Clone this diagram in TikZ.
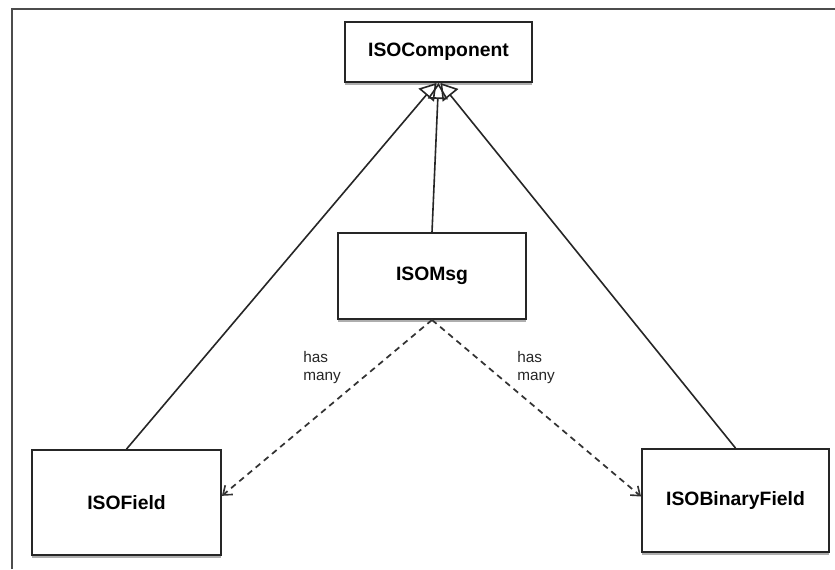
\documentclass[tikz,border=0pt]{standalone}
\usepackage{fontspec}
\setmainfont{Liberation Sans}
\usetikzlibrary{arrows.meta,shadows}
\begin{document}
\begin{tikzpicture}[x=0.75pt,y=-0.75pt,
  classbox/.style={draw=black!85,line width=1.4pt,fill=white,inner sep=0pt,
    font=\fontsize{14.5}{17}\selectfont\bfseries,
    drop shadow={shadow xshift=0pt,shadow yshift=-2.5pt,opacity=0.45,fill=black!70}},
  inherit/.style={draw=black!85,line width=1.2pt,
    -{Triangle[open,length=12pt,width=15pt,line width=1.2pt]}},
  hasmany/.style={draw=black!80,line width=1.3pt,dash pattern=on 4.5pt off 3.5pt,
    -{Straight Barb[length=6pt,width=9pt,line width=1.2pt]}},
  note/.style={font=\fontsize{11.5}{13.5}\selectfont,align=left,inner sep=0pt,text=black!85}]
  \useasboundingbox (0,0) rectangle (835,569);
  \fill[white] (0,0) rectangle (835,569);
  % frame
  \draw[black!70,line width=1.6pt] (12,569) -- (12,9) -- (835,9);
  % classes
  \node[classbox,minimum width=140.25pt,minimum height=45pt] (comp) at (438.5,52) {ISOComponent};
  \node[classbox,minimum width=141pt,minimum height=64.5pt] (msg) at (432,276) {ISOMsg};
  \node[classbox,minimum width=141.75pt,minimum height=78.75pt] (field) at (126.5,502.5) {ISOField};
  \node[classbox,minimum width=140.25pt,minimum height=77.25pt] (bin) at (735.5,500.5) {ISOBinaryField};
  % generalisation
  \draw[inherit] (field.north) -- ([xshift=-1.5pt]comp.south);
  \draw[inherit] (msg.north) -- (comp.south);
  \draw[inherit] (bin.north) -- ([xshift=1.5pt]comp.south);
  % associations
  \coordinate (fieldin) at ([yshift=5pt]field.east);
  \coordinate (binin) at ([yshift=3pt]bin.west);
  \draw[hasmany] (msg.south) -- (fieldin);
  \draw[hasmany] (msg.south) -- (binin);
  \node[note,anchor=north west] (l1) at (303,351) {has\\many};
  \node[note,anchor=north west] (l2) at (517,351) {has\\many};
\end{tikzpicture}
\end{document}
